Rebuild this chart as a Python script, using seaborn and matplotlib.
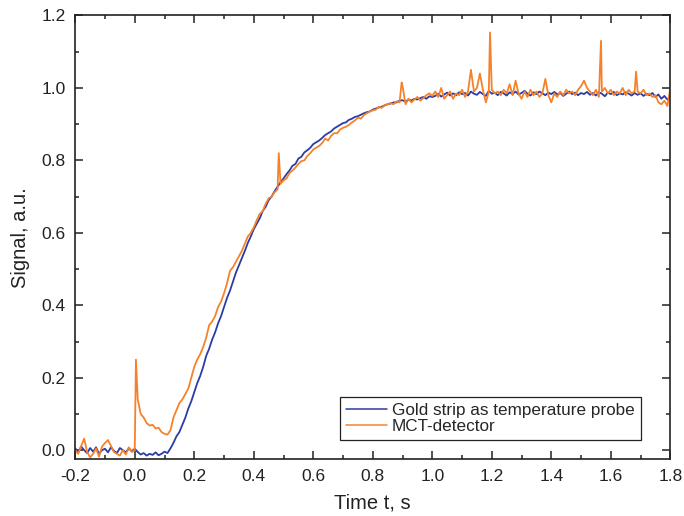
import numpy as np
import pandas as pd
import seaborn as sns
import matplotlib
matplotlib.use('Agg')
import matplotlib.pyplot as plt
from matplotlib.ticker import MultipleLocator, FormatStrFormatter

# time grid, 10 ms steps from -0.2 s to 1.8 s
t_grid = np.round(np.arange(-0.2, 1.8001, 0.01), 3)

# gold strip signal (10 values = 0.1 s)
gold = [
    0.005, -0.005, 0.01, 0.0, -0.008, 0.006, -0.004, 0.008, -0.01, 0.0,
    0.004, -0.006, 0.008, -0.002, -0.008, 0.006, 0.0, -0.006, 0.005, -0.003,
    0.004, -0.005, -0.012, -0.008, -0.015, -0.01, -0.013, -0.006, -0.014, -0.01,
    -0.004, -0.008, 0.005, 0.02, 0.038, 0.05, 0.07, 0.09, 0.115, 0.135,
    0.16, 0.185, 0.205, 0.23, 0.26, 0.28, 0.305, 0.325, 0.35, 0.37,
    0.395, 0.42, 0.44, 0.465, 0.49, 0.51, 0.53, 0.55, 0.572, 0.59,
    0.61, 0.625, 0.64, 0.66, 0.672, 0.69, 0.70, 0.715, 0.727, 0.74,
    0.75, 0.762, 0.772, 0.785, 0.79, 0.805, 0.81, 0.822, 0.828, 0.835,
    0.845, 0.85, 0.855, 0.862, 0.87, 0.875, 0.88, 0.888, 0.893, 0.898,
    0.903, 0.905, 0.912, 0.915, 0.92, 0.922, 0.926, 0.93, 0.933, 0.935,
    0.94, 0.943, 0.946, 0.948, 0.952, 0.955, 0.957, 0.96, 0.96, 0.965,
    0.966, 0.962, 0.968, 0.965, 0.97, 0.968, 0.972, 0.975, 0.97, 0.977,
    0.975, 0.978, 0.984, 0.976, 0.982, 0.987, 0.979, 0.985, 0.98, 0.988,
    0.983, 0.986, 0.979, 0.99, 0.984, 0.981, 0.989, 0.983, 0.978, 0.992,
    0.984, 0.987, 0.98, 0.989, 0.985, 0.979, 0.988, 0.983, 0.99, 0.982,
    0.986, 0.992, 0.984, 0.979, 0.988, 0.983, 0.99, 0.985, 0.98, 0.987,
    0.983, 0.989, 0.982, 0.986, 0.978, 0.984, 0.99, 0.983, 0.987, 0.98,
    0.986, 0.983, 0.989, 0.981, 0.986, 0.979, 0.988, 0.984, 0.977, 0.987,
    0.983, 0.989, 0.98, 0.985, 0.982, 0.988, 0.984, 0.979, 0.986, 0.981,
    0.985, 0.978, 0.984, 0.98, 0.986, 0.975, 0.982, 0.97, 0.978, 0.968,
    0.975,
]

# MCT detector signal on the same grid
mct = [
    0.0, -0.01, 0.012, 0.032, -0.005, -0.02, -0.01, 0.005, -0.018, 0.01,
    0.02, 0.028, 0.012, -0.005, -0.01, -0.015, 0.0, -0.012, 0.008, -0.005,
    0.0, 0.14, 0.10, 0.09, 0.075, 0.068, 0.07, 0.06, 0.062, 0.05,
    0.045, 0.043, 0.055, 0.09, 0.11, 0.13, 0.14, 0.155, 0.17, 0.20,
    0.23, 0.25, 0.265, 0.285, 0.31, 0.345, 0.355, 0.37, 0.395, 0.41,
    0.433, 0.46, 0.495, 0.505, 0.52, 0.535, 0.55, 0.57, 0.59, 0.60,
    0.615, 0.635, 0.652, 0.66, 0.68, 0.695, 0.70, 0.712, 0.72, 0.735,
    0.745, 0.75, 0.765, 0.772, 0.78, 0.79, 0.798, 0.80, 0.812, 0.82,
    0.83, 0.835, 0.84, 0.848, 0.86, 0.855, 0.868, 0.875, 0.875, 0.885,
    0.89, 0.893, 0.898, 0.905, 0.91, 0.918, 0.915, 0.925, 0.93, 0.935,
    0.938, 0.94, 0.948, 0.945, 0.952, 0.955, 0.958, 0.955, 0.963, 0.96,
    1.005, 0.955, 0.97, 0.96, 0.968, 0.975, 0.965, 0.972, 0.98, 0.985,
    0.978, 0.99, 0.975, 1.0, 0.97, 0.98, 0.99, 0.97, 0.985, 0.98,
    0.995, 0.975, 0.99, 1.05, 0.99, 1.0, 1.04, 0.995, 0.96, 0.99,
    0.995, 0.985, 0.99, 0.98, 0.995, 0.985, 1.01, 0.98, 1.02, 0.985,
    0.97, 0.99, 0.975, 0.995, 0.98, 0.99, 0.975, 0.985, 1.025, 0.98,
    0.96, 0.985, 0.975, 0.99, 0.98, 0.995, 0.985, 0.99, 0.98, 0.995,
    1.005, 1.02, 1.0, 0.99, 0.98, 0.995, 0.975, 0.99, 1.0, 0.985,
    0.995, 0.98, 0.99, 0.985, 1.0, 0.98, 0.995, 0.985, 0.99, 0.99,
    0.985, 0.995, 0.98, 0.985, 0.975, 0.98, 0.96, 0.955, 0.965, 0.95,
    1.0,
]

# narrow spikes of the MCT trace, between grid points
spike_t = [0.004, 0.484, 0.897, 1.194, 1.567, 1.685]
spike_v = [0.25, 0.82, 1.015, 1.153, 1.13, 1.045]

assert len(gold) == len(t_grid) and len(mct) == len(t_grid)

df_gold = pd.DataFrame({'t': t_grid, 'signal': gold})
df_mct = pd.concat([pd.DataFrame({'t': t_grid, 'signal': mct}),
                    pd.DataFrame({'t': spike_t, 'signal': spike_v})]).sort_values('t')

sns.set_style("ticks")
plt.rcParams['font.family'] = ['Liberation Sans', 'DejaVu Sans']

fig = plt.figure(figsize=(6.84, 5.16), dpi=100)
ax = fig.add_axes([0.110, 0.110, 0.870, 0.860])

sns.lineplot(data=df_gold, x='t', y='signal', color='#2b3ca6', linewidth=1.3,
             estimator=None, sort=False, label='Gold strip as temperature probe', ax=ax)
sns.lineplot(data=df_mct, x='t', y='signal', color='#f5822a', linewidth=1.3,
             estimator=None, sort=False, label='MCT-detector', ax=ax)

ax.set_xlim(-0.2, 1.8)
ax.set_ylim(-0.025, 1.2)
ax.xaxis.set_major_locator(MultipleLocator(0.2))
ax.xaxis.set_minor_locator(MultipleLocator(0.1))
ax.yaxis.set_major_locator(MultipleLocator(0.2))
ax.yaxis.set_minor_locator(MultipleLocator(0.1))
ax.xaxis.set_major_formatter(FormatStrFormatter('%.1f'))
ax.yaxis.set_major_formatter(FormatStrFormatter('%.1f'))

ax.tick_params(which='both', direction='in', top=True, right=True, width=1.1,
               colors='#222222', labelsize=12.5, labelcolor='#222222')
ax.tick_params(which='major', length=5.5, pad=7)
ax.tick_params(which='minor', length=3)
for s in ax.spines.values():
    s.set_linewidth(1.2)
    s.set_color('#222222')

ax.set_xlabel('Time t, s', fontsize=14.5, color='#222222', labelpad=7)
ax.set_ylabel('Signal, a.u.', fontsize=14.5, color='#222222', labelpad=8)

leg = ax.legend(loc='lower right', bbox_to_anchor=(0.95, 0.043), borderaxespad=0,
                fancybox=False, framealpha=1, edgecolor='#222222', fontsize=12.3,
                handlelength=2.4, handletextpad=0.3, borderpad=0.35, labelspacing=0.05)
leg.get_frame().set_linewidth(0.9)
for line in leg.get_lines():
    line.set_linewidth(1.1)

fig.savefig('out.png', dpi=100)
